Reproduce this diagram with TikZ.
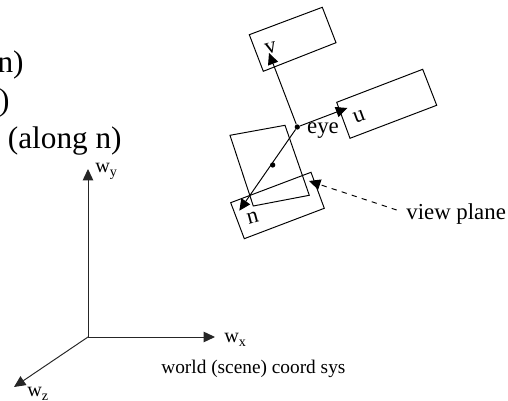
\documentclass[tikz,border=0pt]{standalone}
\usepackage{fontspec}
\setmainfont{Liberation Serif}
\usetikzlibrary{arrows.meta}
\tikzset{
  axisline/.style={draw=black!85,line width=0.55pt,-{Triangle[length=6.5pt,width=6pt]}},
  frameline/.style={draw=black,line width=0.55pt},
  biglabel/.style={font=\fontsize{17.8}{20}\selectfont,inner sep=0pt,anchor=base east},
  midlabel/.style={font=\fontsize{13}{15}\selectfont,inner sep=0pt},
  smalllabel/.style={font=\fontsize{11.5}{13}\selectfont,inner sep=0pt,anchor=base west},
  eyedot/.style={circle,fill=black,inner sep=0pt,minimum size=3pt}
}
\begin{document}
\begin{tikzpicture}[x=0.02cm,y=-0.02cm]
  \useasboundingbox (0,0) rectangle (508,401);
  % cut-off text on the left
  \node[biglabel] (lineone) at (24,73) {n)};
  \node[biglabel] (linetwo) at (10,110.5) {)};
  \node[biglabel] (linethree) at (122,149) {(along n)};
  % world axes
  \coordinate (origin) at (88,337);
  \coordinate (wyend) at (88,169);
  \coordinate (wxend) at (215,337);
  \coordinate (wzend) at (14,387);
  \draw[axisline] (origin) -- (wyend);
  \draw[axisline] (origin) -- (wxend);
  \draw[axisline] (origin) -- (wzend);
  \node[smalllabel] (wylabel) at (95,173) {w\textsubscript{y}};
  \node[smalllabel] (wxlabel) at (224,343) {w\textsubscript{x}};
  \node[smalllabel] (wzlabel) at (27,397) {w\textsubscript{z}};
  \node[smalllabel,font=\fontsize{11}{13}\selectfont] (worldlabel) at (161,374) {world (scene) coord sys};
  % boxes round the camera
  \draw[frameline] (249.3,34.7) -- (322.3,7.3) -- (336,42.7) -- (263.3,71.3) -- cycle;
  \draw[frameline] (336.7,102.3) -- (422.7,69.3) -- (436.7,105.3) -- (350,138.3) -- cycle;
  \draw[frameline] (230,135.3) -- (285,125.3) -- (309.3,195.3) -- (253.3,206) -- cycle;
  \draw[frameline] (230.7,202.7) -- (311,172.3) -- (324.3,208.3) -- (244.3,238.7) -- cycle;
  % camera axes
  \node[eyedot] (eye) at (297.3,127) {};
  \node[eyedot] (center) at (272.7,165) {};
  \coordinate (vend) at (269,53);
  \coordinate (uend) at (347.3,108);
  \coordinate (nend) at (239.3,210.7);
  \draw[axisline,draw=black] (eye) -- (vend);
  \draw[axisline,draw=black] (eye) -- (uend);
  \draw[axisline,draw=black] (eye) -- (nend);
  \node[midlabel,rotate=15] (vlabel) at (270.7,48.5) {v};
  \node[midlabel,rotate=20] (ulabel) at (359.3,116.7) {u};
  \node[midlabel] (eyelabel) at (323,131) {eye};
  \node[midlabel,rotate=15] (nlabel) at (252.7,217.7) {n};
  % view plane pointer
  \node[smalllabel,font=\fontsize{13}{15}\selectfont] (planelabel) at (406,220) {view plane};
  \coordinate (planestart) at (396.7,210);
  \coordinate (planetip) at (309,181);
  \draw[axisline,draw=black,dashed] (planestart) -- (planetip);
\end{tikzpicture}
\end{document}
